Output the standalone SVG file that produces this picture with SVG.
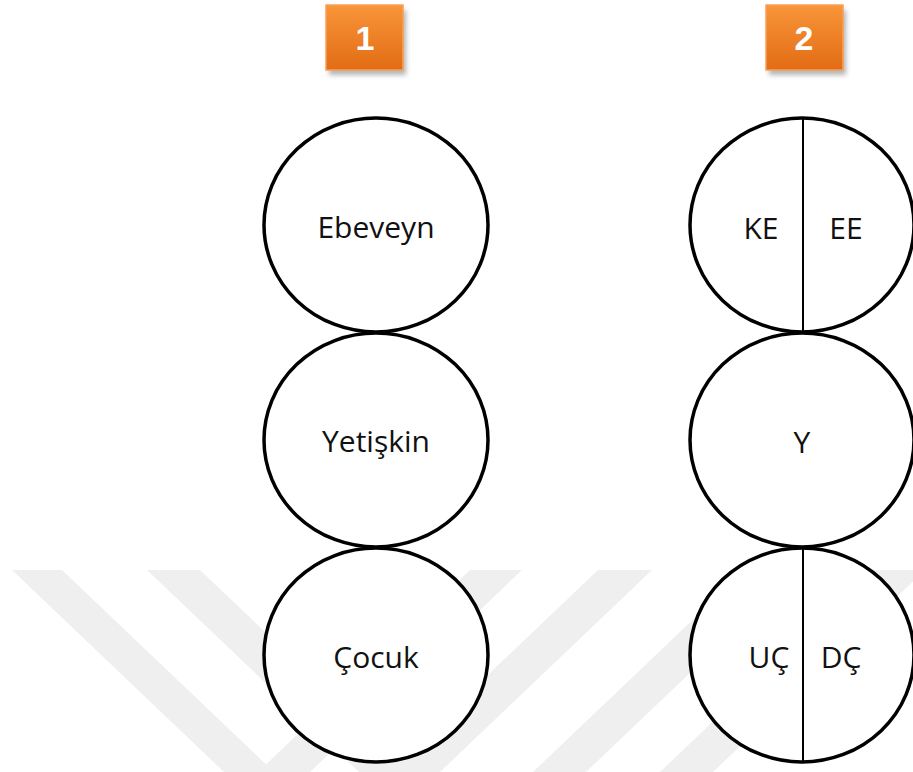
<svg xmlns="http://www.w3.org/2000/svg" width="913" height="772" viewBox="0 0 913 772">
<style>
.wm{fill:#efefef}
.node ellipse{fill:#fff;stroke:#000;stroke-width:3.5}
.div{stroke:#000;stroke-width:2}
.lbl{font-family:"Open Sans","Liberation Sans",sans-serif;font-size:30px;fill:#111;text-anchor:middle}
.badge rect.b{fill:url(#og);stroke:#f8a15a;stroke-width:1.5}
.badge text{font-family:"Liberation Sans",Arial,sans-serif;font-weight:bold;font-size:34px;fill:#fff;text-anchor:middle}
</style>
<defs>
<linearGradient id="og" x1="0" y1="0" x2="0" y2="1">
<stop offset="0" stop-color="#f9953a"/>
<stop offset="1" stop-color="#e26c14"/>
</linearGradient>
<filter id="sh" x="-20%" y="-20%" width="140%" height="150%">
<feGaussianBlur stdDeviation="2.5"/>
</filter>
</defs>
<rect width="913" height="772" fill="#fff"/>
<g id="watermark">
<polygon class="wm" points="12,570 62,570 274,772 224,772"/>
<polygon class="wm" points="147,570 200,570 412,772 359,772"/>
<polygon class="wm" points="470,570 522,570 310,772 258,772"/>
<polygon class="wm" points="598,570 652,570 440,772 386,772"/>
<polygon class="wm" points="745,570 798,570 586,772 533,772"/>
<polygon class="wm" points="872,570 925,570 713,772 660,772"/>
</g>
<g id="badge1" class="badge">
<rect x="329" y="10" width="77" height="65" fill="#777" opacity="0.55" filter="url(#sh)"/>
<rect class="b" x="326" y="5" width="77" height="65"/>
<text x="365" y="50">1</text>
</g>
<g id="badge2" class="badge">
<rect x="769" y="10" width="77" height="65" fill="#777" opacity="0.55" filter="url(#sh)"/>
<rect class="b" x="766" y="5" width="77" height="65"/>
<text x="804" y="50">2</text>
</g>
<g id="ebeveyn" class="node">
<ellipse cx="376" cy="225" rx="112" ry="107"/>
<text class="lbl" x="376" y="238">Ebeveyn</text>
</g>
<g id="yetiskin" class="node">
<ellipse cx="376" cy="440" rx="112" ry="107"/>
<text class="lbl" x="376" y="452">Yetişkin</text>
</g>
<g id="cocuk" class="node">
<ellipse cx="376" cy="655" rx="112" ry="107"/>
<text class="lbl" x="376" y="668">Çocuk</text>
</g>
<g id="e2" class="node">
<ellipse cx="802" cy="225" rx="112" ry="107"/>
<line class="div" x1="803" y1="118" x2="803" y2="332"/>
<text class="lbl" x="761" y="239">KE</text>
<text class="lbl" x="846" y="239">EE</text>
</g>
<g id="y2" class="node">
<ellipse cx="802" cy="440" rx="112" ry="107"/>
<text class="lbl" x="802" y="453">Y</text>
</g>
<g id="c2" class="node">
<ellipse cx="802" cy="655" rx="112" ry="107"/>
<line class="div" x1="803" y1="548" x2="803" y2="762"/>
<text class="lbl" x="769" y="668">UÇ</text>
<text class="lbl" x="841" y="668">DÇ</text>
</g>
<g id="connectors"/>
</svg>
